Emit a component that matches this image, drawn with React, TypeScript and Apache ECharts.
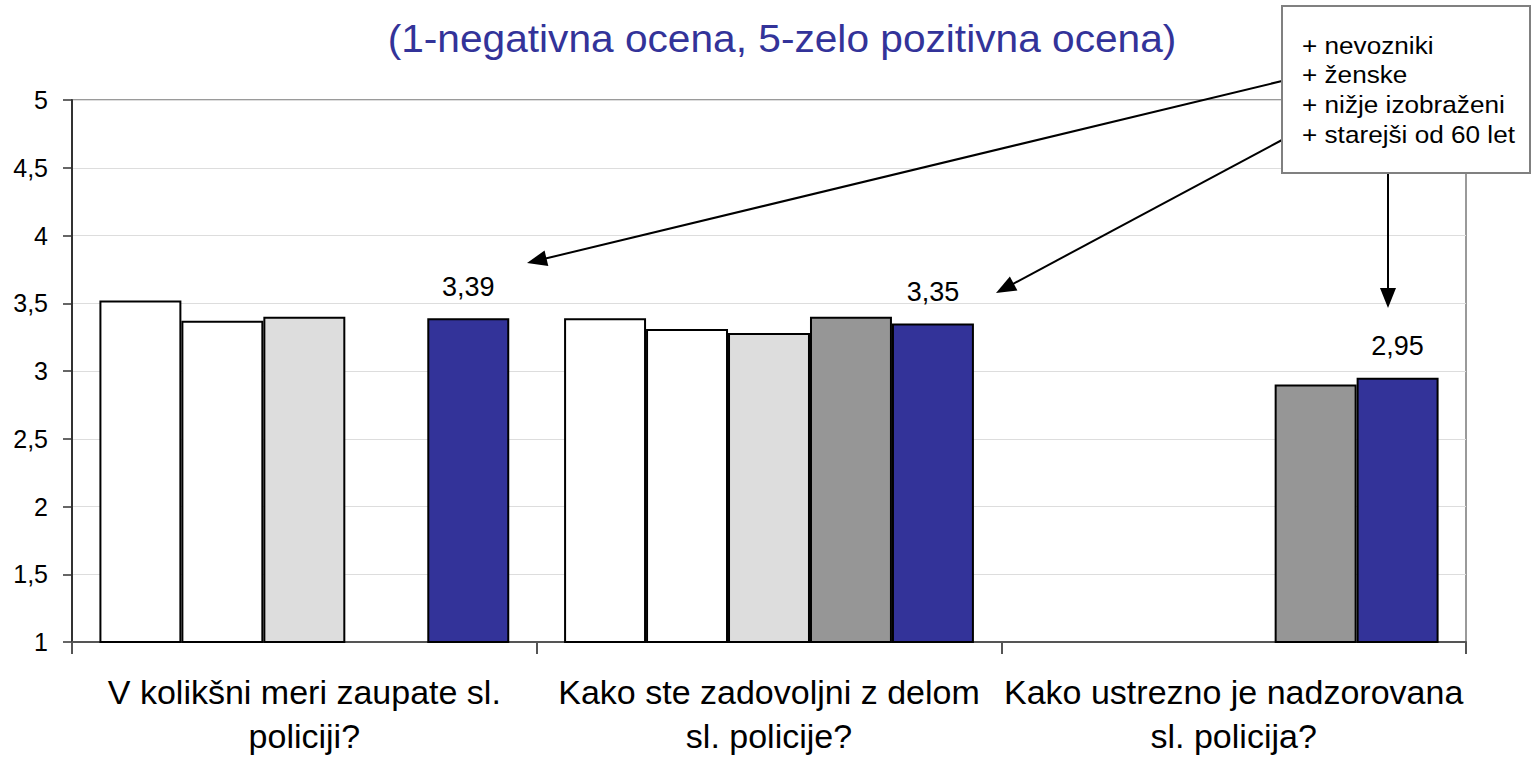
import React, { useEffect, useRef } from "react";
import * as echarts from "echarts";

const categories = [
  "V kolikšni meri zaupate sl.\npoliciji?",
  "Kako ste zadovoljni z delom\nsl. policije?",
  "Kako ustrezno je nadzorovana\nsl. policija?",
];
const seriesNames = ["Skupina 1", "Skupina 2", "Skupina 3", "Skupina 4", "Skupina 5"];
const series1 = [3.52, 3.39, null];
const series2 = [3.37, 3.31, null];
const series3 = [3.4, 3.28, null];
const series4 = [null, 3.4, 2.9];
const series5 = [3.39, 3.35, 2.95];
const seriesColors = ["#ffffff", "#ffffff", "#dddddd", "#969696", "#333399"];
const titleText = "(1-negativna ocena, 5-zelo pozitivna ocena)";
const noteLines = ["+ nevozniki", "+ ženske", "+ nižje izobraženi", "+ starejši od 60 let"];

const FONT = "'Liberation Sans', Arial, sans-serif";
const fmt = (v: number) => String(v).replace(".", ",");

function arrow(x1: number, y1: number, x2: number, y2: number) {
  const dx = x2 - x1;
  const dy = y2 - y1;
  const len = Math.hypot(dx, dy);
  const ux = dx / len;
  const uy = dy / len;
  const L = 20;
  const W = 8;
  const bx = x2 - ux * L;
  const by = y2 - uy * L;
  const px = -uy;
  const py = ux;
  return [
    {
      type: "line",
      z: 100,
      shape: { x1, y1, x2: bx + ux * 2, y2: by + uy * 2 },
      style: { stroke: "#000", lineWidth: 2 },
    },
    {
      type: "polygon",
      z: 100,
      shape: {
        points: [
          [x2, y2],
          [bx + px * W, by + py * W],
          [bx - px * W, by - py * W],
        ],
      },
      style: { fill: "#000" },
    },
  ];
}

export default function App() {
  const ref = useRef<HTMLDivElement>(null);
  useEffect(() => {
    if (!ref.current) return;
    const chart = echarts.init(ref.current, null, { renderer: "svg" });
    const data = [series1, series2, series3, series4, series5];
    const option: any = {
      animation: false,
      backgroundColor: "#ffffff",
      grid: {
        left: 72,
        right: 70,
        top: 100,
        bottom: 114,
        show: true,
        borderColor: "#9a9a9a",
        borderWidth: 2,
        backgroundColor: "transparent",
      },
      xAxis: {
        type: "category",
        data: categories,
        axisLine: { lineStyle: { color: "#555", width: 2 } },
        axisTick: { show: true, length: 12, lineStyle: { color: "#555", width: 2 } },
        axisLabel: {
          color: "#000",
          fontFamily: FONT,
          fontSize: 34,
          lineHeight: 44,
          margin: 28,
          interval: 0,
        },
      },
      yAxis: {
        type: "value",
        min: 1,
        max: 5,
        interval: 0.5,
        axisLine: { show: true, lineStyle: { color: "#333", width: 2 } },
        axisTick: { show: true, length: 9, lineStyle: { color: "#333", width: 1.5 } },
        splitLine: { lineStyle: { color: "#dddddd", width: 1 } },
        axisLabel: {
          color: "#000",
          fontFamily: FONT,
          fontSize: 25,
          margin: 24,
          formatter: (v: number) => fmt(v),
        },
      },
      series: data.map((d, i) => ({
        name: seriesNames[i],
        type: "bar",
        data: d,
        barGap: "0%",
        barCategoryGap: "11.8%",
        itemStyle: { color: seriesColors[i], borderColor: "#000", borderWidth: 2 },
        label:
          i === 4
            ? {
                show: true,
                position: "top",
                distance: 18,
                color: "#000",
                fontFamily: FONT,
                fontSize: 27,
                formatter: (p: any) => p.value.toFixed(2).replace(".", ","),
              }
            : { show: false },
      })),
      graphic: [
        {
          type: "text",
          x: 782,
          y: 38,
          scaleX: 1.07,
          style: {
            text: titleText,
            fill: "#333399",
            font: `38px ${FONT}`,
            textAlign: "center",
            textVerticalAlign: "middle",
          },
        },
        ...arrow(1282, 81, 527, 263),
        ...arrow(1282, 140, 996, 293),
        ...arrow(1388, 173, 1388, 308),
        {
          type: "rect",
          z: 110,
          shape: { x: 1282, y: 6, width: 248, height: 167 },
          style: { fill: "#fff", stroke: "#808080", lineWidth: 2 },
        },
        ...noteLines.map((t, i) => ({
          type: "text",
          z: 120,
          x: 1302,
          y: 45 + i * 29.7,
          scaleX: 1.09,
          style: {
            text: t,
            fill: "#000",
            font: `24px ${FONT}`,
            textAlign: "left",
            textVerticalAlign: "middle",
          },
        })),
      ],
    };
    chart.setOption(option);
    return () => chart.dispose();
  }, []);
  return (
    <div
      ref={ref}
      style={{ position: "absolute", left: 0, top: 0, width: 1536, height: 758 }}
    />
  );
}
